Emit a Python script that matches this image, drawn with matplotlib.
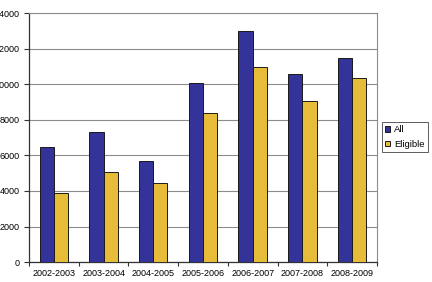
import matplotlib.pyplot as plt
import numpy as np

plt.rcParams['font.family'] = ['Liberation Sans', 'DejaVu Sans']

# Data
years = ['2002-2003', '2003-2004', '2004-2005', '2005-2006',
         '2006-2007', '2007-2008', '2008-2009']
all_counts = [6500, 7340, 5700, 10070, 13000, 10590, 11480]
eligible_counts = [3900, 5050, 4430, 8410, 10970, 9090, 10350]

x = np.arange(len(years))
bar_width = 0.286

fig = plt.figure(figsize=(4.32, 2.82), dpi=100)
ax = fig.add_axes([0.0671, 0.0709, 0.8056, 0.8813])

ax.bar(x - bar_width / 2, all_counts, width=bar_width, color='#333399',
       edgecolor='#1a1a1a', linewidth=0.7, label='All', zorder=3)
ax.bar(x + bar_width / 2, eligible_counts, width=bar_width, color='#E6BC38',
       edgecolor='#1a1a1a', linewidth=0.7, label='Eligible', zorder=3)

ax.set_xlim(-0.5, len(years) - 0.5)
ax.set_ylim(0, 14000)
ax.set_yticks(np.arange(0, 14001, 2000))
ax.set_yticklabels([str(v) for v in range(0, 14001, 2000)])
ax.yaxis.grid(True, color='#8c8c8c', linewidth=0.8, zorder=0)

# category labels at centres, tick marks at boundaries
ax.set_xticks(x)
ax.set_xticklabels(years)
ax.tick_params(axis='x', which='major', length=0, pad=5, labelsize=6.5)
ax.set_xticks(np.arange(-0.5, len(years), 1), minor=True)
ax.tick_params(axis='x', which='minor', length=3, width=0.8, color='#333333')
ax.tick_params(axis='y', length=3.8, width=0.8, color='#333333', pad=2.8,
               labelsize=6.5)

for side in ['top', 'right']:
    ax.spines[side].set_color('#8c8c8c')
    ax.spines[side].set_linewidth(0.8)
for side in ['left', 'bottom']:
    ax.spines[side].set_color('#333333')
    ax.spines[side].set_linewidth(0.9)

leg = fig.legend(loc='center left', bbox_to_anchor=(0.884, 0.514),
                 fontsize=6.8, frameon=True, fancybox=False,
                 handlelength=0.55, handleheight=0.55, handletextpad=0.4,
                 borderpad=0.35, labelspacing=0.6, borderaxespad=0)
leg.get_frame().set_edgecolor('#333333')
leg.get_frame().set_linewidth(0.7)

fig.savefig('out.png', dpi=100)
